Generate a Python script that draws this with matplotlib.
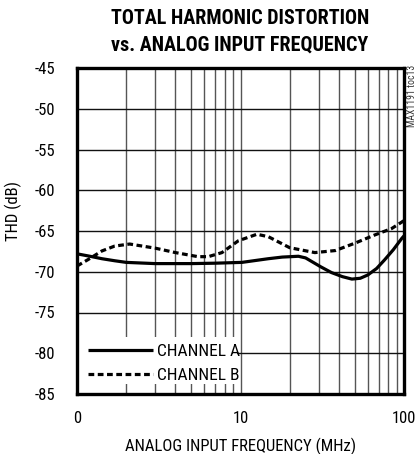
import matplotlib
matplotlib.use("Agg")
import matplotlib.pyplot as plt
from matplotlib.patches import Rectangle
from matplotlib.ticker import FixedLocator, NullFormatter

# Data
freq_a = [1, 1.2, 1.42, 1.7, 2, 3, 5, 7, 10.2, 14.8, 18, 22.6, 25, 27.3, 31, 36, 42, 48, 54, 60, 68, 76, 86, 97, 100]
thd_a = [-67.8, -68.1, -68.4, -68.65, -68.85, -69.0, -69.0, -68.95, -68.85, -68.4, -68.2, -68.1, -68.3, -68.75, -69.4, -70.1, -70.6, -70.9, -70.8, -70.4, -69.6, -68.55, -67.3, -65.9, -65.6]
freq_b = [1, 1.17, 1.42, 1.7, 2.1, 3, 4, 5.5, 6.35, 7.7, 9.7, 12.6, 14.8, 20, 28.5, 38, 50, 66, 84, 97, 100]
thd_b = [-69.3, -68.5, -67.45, -66.85, -66.6, -67.1, -67.65, -68.15, -68.15, -67.65, -66.2, -65.4, -65.7, -67.05, -67.65, -67.4, -66.5, -65.5, -64.7, -63.9, -63.7]

y_ticks = [-45, -50, -55, -60, -65, -70, -75, -80, -85]
x_ticks = [1, 10, 100]
x_tick_labels = ["0", "10", "100"]
series_labels = ["CHANNEL A", "CHANNEL B"]

narrow = ["Roboto Condensed", "Archivo Narrow", "DejaVu Sans"]

fig = plt.figure(figsize=(4.19, 4.54), dpi=100)
ax = fig.add_axes([77/419, 1 - 394/454, 327/419, 326/454])
ax.set_xscale("log")
ax.set_xlim(1, 100)
ax.set_ylim(-85, -45)

minor = [m * d for d in (1, 10) for m in range(2, 10)]
ax.xaxis.set_major_locator(FixedLocator(x_ticks))
ax.xaxis.set_minor_locator(FixedLocator(minor))
ax.xaxis.set_minor_formatter(NullFormatter())
ax.set_xticklabels(x_tick_labels)
ax.set_yticks(y_ticks)
ax.set_yticklabels([str(v) for v in y_ticks])
ax.tick_params(axis="both", which="both", length=0, labelsize=12)
ax.tick_params(axis="y", pad=16)
ax.tick_params(axis="x", pad=12)
for lbl in ax.get_xticklabels() + ax.get_yticklabels():
    lbl.set_fontfamily(narrow)

ax.grid(True, which="both", axis="x", color="#555555", lw=1.0)
ax.grid(True, which="major", axis="y", color="#111111", lw=1.0)
ax.set_axisbelow(True)

for s in ax.spines.values():
    s.set_linewidth(2.4)
    s.set_color("black")

# white background behind the legend (hides grid there)
ax.add_patch(Rectangle((0, 0.031), 0.49, 0.144, transform=ax.transAxes,
                       facecolor="white", edgecolor="none", zorder=1))

la, = ax.plot(freq_a, thd_a, color="black", lw=2.3, solid_capstyle="butt", label=series_labels[0])
lb, = ax.plot(freq_b, thd_b, color="black", lw=2.3, linestyle=(0, (1.8, 1.1)),
              dash_capstyle="butt", label=series_labels[1])

leg = ax.legend(handles=[la, lb], loc="lower left", bbox_to_anchor=(0.0336, 0.035),
                frameon=False, handlelength=3.75, handletextpad=0.23, labelspacing=0.5,
                borderpad=0.0, borderaxespad=0.0,
                prop={"family": narrow, "size": 12.5})

ax.set_xlabel("ANALOG INPUT FREQUENCY (MHz)", family=narrow, fontsize=12, labelpad=9)
fig.text(13/419, 1 - 211/454, "THD (dB)", rotation=90, ha="center", va="center",
         family=narrow, fontsize=12)

fig.text(240/419, 1 - 18/454, "TOTAL HARMONIC DISTORTION", ha="center", va="center",
         family=narrow, fontweight="black", fontsize=14.5)
fig.text(240/419, 1 - 45/454, "vs. ANALOG INPUT FREQUENCY", ha="center", va="center",
         family=narrow, fontweight="black", fontsize=14.5)
fig.text(412/419, 1 - 96/454, "MAX1191 toc13", rotation=90, ha="center", va="center",
         family=narrow, fontsize=7, color="#333333")

fig.savefig("out.png", dpi=100, facecolor="white")
